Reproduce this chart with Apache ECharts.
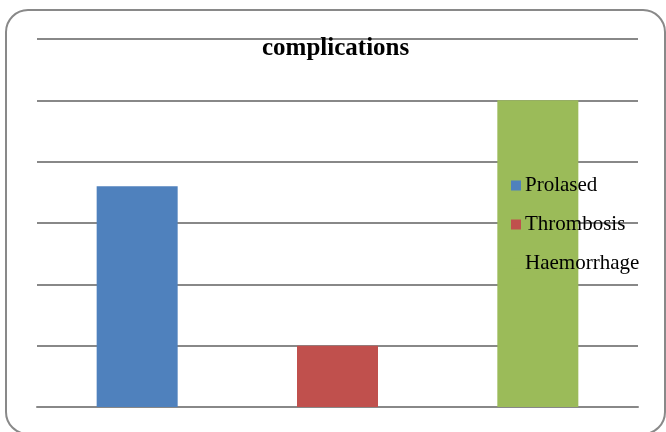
<!DOCTYPE html>
<html><head><meta charset="utf-8">
<script src="https://cdn.jsdelivr.net/npm/echarts@6/dist/echarts.min.js"></script>
<style>html,body{margin:0;padding:0;background:#fff}#c{width:666px;height:432px}</style>
</head><body><div id="c"></div>
<script>
const categories = ['Prolased', 'Thrombosis', 'Haemorrhage'];
const seriesNames = ['Prolased', 'Thrombosis', 'Haemorrhage'];
const values = [3.6, 1, 5];
const colors = ['#4F81BD', '#C0504D', '#9BBB59'];
const yTicks = [0, 1, 2, 3, 4, 5, 6];

const chart = echarts.init(document.getElementById('c'));
const series = seriesNames.map((name, i) => ({
  name: name,
  type: 'bar',
  stack: 'all',
  barWidth: 81,
  itemStyle: { color: colors[i] },
  data: categories.map((c, j) => j === i ? values[i] : null),
  z: 2
}));
chart.setOption({
  animation: false,
  graphic: [{
    type: 'rect',
    shape: { x: 6, y: 10, width: 659, height: 424, r: 22 },
    style: { fill: 'none', stroke: '#898989', lineWidth: 2 },
    z: -1
  }],
  title: {
    text: 'complications',
    left: 257, top: 31,
    textStyle: { fontFamily: 'Liberation Serif', fontWeight: 'bold', fontSize: 25, color: '#000' }
  },
  legend: {
    orient: 'vertical',
    left: 506, top: 170,
    itemWidth: 10, itemHeight: 10,
    itemGap: 18,
    icon: 'rect',
    textStyle: { fontFamily: 'Liberation Serif', fontSize: 21, color: '#000', padding: [0, 0, 0, -1] },
    data: seriesNames
  },
  grid: { left: 37, right: 28, top: 39, bottom: 25 },
  xAxis: {
    type: 'category',
    data: categories,
    axisLine: { show: true, lineStyle: { color: '#888', width: 2 } },
    axisTick: { show: false },
    axisLabel: { show: false }
  },
  yAxis: {
    type: 'value',
    min: yTicks[0], max: yTicks[yTicks.length - 1], interval: 1,
    axisLine: { show: false },
    axisTick: { show: false },
    axisLabel: { show: false },
    splitLine: { lineStyle: { color: '#888', width: 2 } }
  },
  series: series
});
</script>
</body></html>
